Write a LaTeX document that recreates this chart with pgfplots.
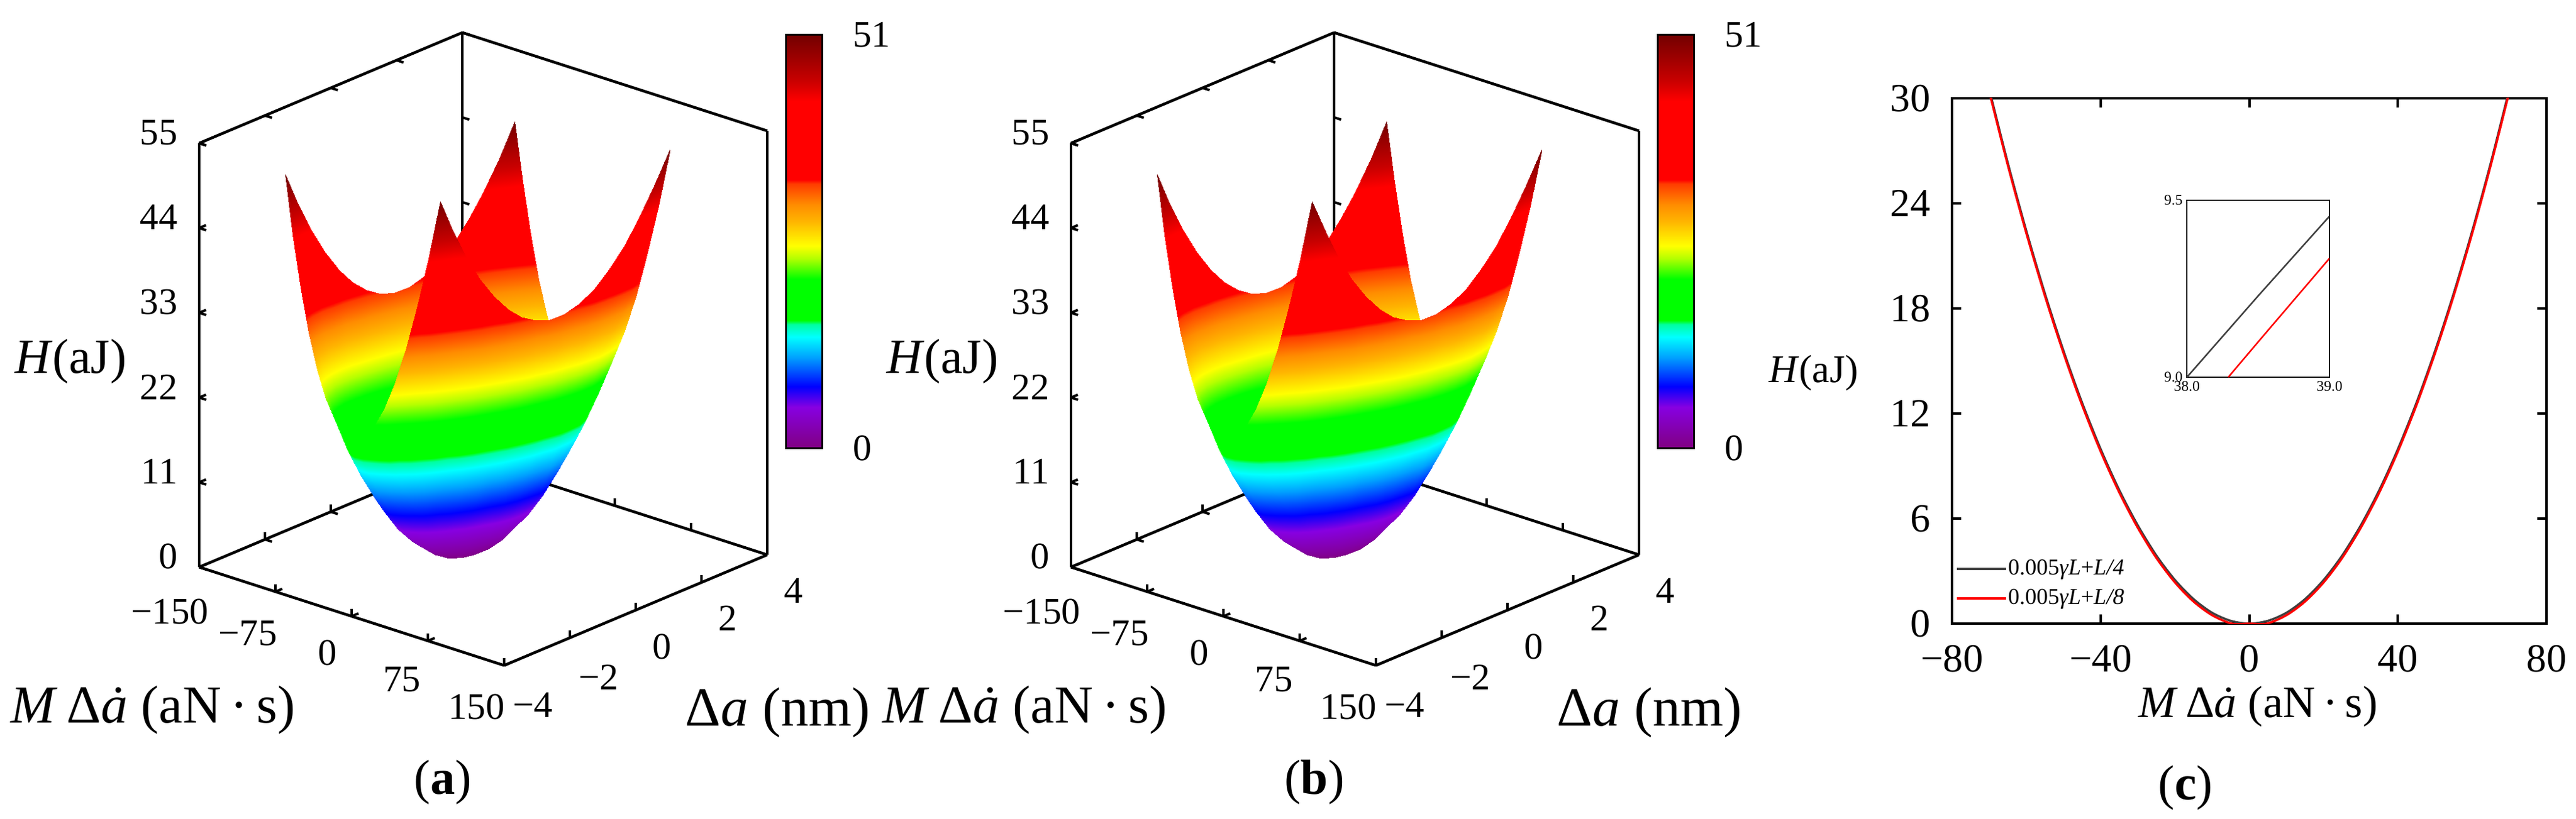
\documentclass[border=0pt]{standalone}
\usepackage{fontspec}
\setmainfont{Liberation Serif}
\usepackage{pgfplots}
\usepackage{pgfplotstable}
\pgfplotsset{compat=1.18}

\pgfplotsset{colormap={Hmap}{rgb255(0)=(128,0,128) rgb255(10)=(135,0,225) rgb255(15)=(0,0,255) rgb255(22)=(0,160,255) rgb255(27)=(0,255,255) rgb255(30)=(0,255,160) rgb255(31)=(0,255,0) rgb255(41)=(0,255,0) rgb255(46)=(180,255,0) rgb255(49)=(255,255,0) rgb255(55)=(255,180,0) rgb255(59)=(255,140,0) rgb255(64)=(255,60,0) rgb255(65)=(255,0,0) rgb255(84)=(255,0,0) rgb255(89)=(200,0,0) rgb255(100)=(115,0,0)}}

\pgfplotstableread[row sep=\\]{
x y z\\
-72 -4 50.86\\ -72 -3.5 46.51\\ -72 -3 42.74\\ -72 -2.5 39.55\\ -72 -2 36.94\\ -72 -1.5 34.91\\ -72 -1 33.46\\ -72 -0.5 32.59\\ -72 0 32.30\\ -72 0.5 32.59\\ -72 1 33.46\\ -72 1.5 34.91\\ -72 2 36.94\\ -72 2.5 39.55\\ -72 3 42.74\\ -72 3.5 46.51\\ -72 4 50.86\\
-63 -4 43.29\\ -63 -3.5 38.94\\ -63 -3 35.17\\ -63 -2.5 31.98\\ -63 -2 29.37\\ -63 -1.5 27.34\\ -63 -1 25.89\\ -63 -0.5 25.02\\ -63 0 24.73\\ -63 0.5 25.02\\ -63 1 25.89\\ -63 1.5 27.34\\ -63 2 29.37\\ -63 2.5 31.98\\ -63 3 35.17\\ -63 3.5 38.94\\ -63 4 43.29\\
-54 -4 36.73\\ -54 -3.5 32.38\\ -54 -3 28.61\\ -54 -2.5 25.42\\ -54 -2 22.81\\ -54 -1.5 20.78\\ -54 -1 19.33\\ -54 -0.5 18.46\\ -54 0 18.17\\ -54 0.5 18.46\\ -54 1 19.33\\ -54 1.5 20.78\\ -54 2 22.81\\ -54 2.5 25.42\\ -54 3 28.61\\ -54 3.5 32.38\\ -54 4 36.73\\
-45 -4 31.18\\ -45 -3.5 26.83\\ -45 -3 23.06\\ -45 -2.5 19.87\\ -45 -2 17.26\\ -45 -1.5 15.23\\ -45 -1 13.78\\ -45 -0.5 12.91\\ -45 0 12.62\\ -45 0.5 12.91\\ -45 1 13.78\\ -45 1.5 15.23\\ -45 2 17.26\\ -45 2.5 19.87\\ -45 3 23.06\\ -45 3.5 26.83\\ -45 4 31.18\\
-36 -4 26.63\\ -36 -3.5 22.28\\ -36 -3 18.51\\ -36 -2.5 15.32\\ -36 -2 12.71\\ -36 -1.5 10.68\\ -36 -1 9.23\\ -36 -0.5 8.36\\ -36 0 8.07\\ -36 0.5 8.36\\ -36 1 9.23\\ -36 1.5 10.68\\ -36 2 12.71\\ -36 2.5 15.32\\ -36 3 18.51\\ -36 3.5 22.28\\ -36 4 26.63\\
-27 -4 23.10\\ -27 -3.5 18.75\\ -27 -3 14.98\\ -27 -2.5 11.79\\ -27 -2 9.18\\ -27 -1.5 7.15\\ -27 -1 5.70\\ -27 -0.5 4.83\\ -27 0 4.54\\ -27 0.5 4.83\\ -27 1 5.70\\ -27 1.5 7.15\\ -27 2 9.18\\ -27 2.5 11.79\\ -27 3 14.98\\ -27 3.5 18.75\\ -27 4 23.10\\
-18 -4 20.58\\ -18 -3.5 16.23\\ -18 -3 12.46\\ -18 -2.5 9.27\\ -18 -2 6.66\\ -18 -1.5 4.63\\ -18 -1 3.18\\ -18 -0.5 2.31\\ -18 0 2.02\\ -18 0.5 2.31\\ -18 1 3.18\\ -18 1.5 4.63\\ -18 2 6.66\\ -18 2.5 9.27\\ -18 3 12.46\\ -18 3.5 16.23\\ -18 4 20.58\\
-9 -4 19.06\\ -9 -3.5 14.71\\ -9 -3 10.94\\ -9 -2.5 7.75\\ -9 -2 5.14\\ -9 -1.5 3.11\\ -9 -1 1.66\\ -9 -0.5 0.79\\ -9 0 0.50\\ -9 0.5 0.79\\ -9 1 1.66\\ -9 1.5 3.11\\ -9 2 5.14\\ -9 2.5 7.75\\ -9 3 10.94\\ -9 3.5 14.71\\ -9 4 19.06\\
0 -4 18.56\\ 0 -3.5 14.21\\ 0 -3 10.44\\ 0 -2.5 7.25\\ 0 -2 4.64\\ 0 -1.5 2.61\\ 0 -1 1.16\\ 0 -0.5 0.29\\ 0 0 0\\ 0 0.5 0.29\\ 0 1 1.16\\ 0 1.5 2.61\\ 0 2 4.64\\ 0 2.5 7.25\\ 0 3 10.44\\ 0 3.5 14.21\\ 0 4 18.56\\
9 -4 19.06\\ 9 -3.5 14.71\\ 9 -3 10.94\\ 9 -2.5 7.75\\ 9 -2 5.14\\ 9 -1.5 3.11\\ 9 -1 1.66\\ 9 -0.5 0.79\\ 9 0 0.50\\ 9 0.5 0.79\\ 9 1 1.66\\ 9 1.5 3.11\\ 9 2 5.14\\ 9 2.5 7.75\\ 9 3 10.94\\ 9 3.5 14.71\\ 9 4 19.06\\
18 -4 20.58\\ 18 -3.5 16.23\\ 18 -3 12.46\\ 18 -2.5 9.27\\ 18 -2 6.66\\ 18 -1.5 4.63\\ 18 -1 3.18\\ 18 -0.5 2.31\\ 18 0 2.02\\ 18 0.5 2.31\\ 18 1 3.18\\ 18 1.5 4.63\\ 18 2 6.66\\ 18 2.5 9.27\\ 18 3 12.46\\ 18 3.5 16.23\\ 18 4 20.58\\
27 -4 23.10\\ 27 -3.5 18.75\\ 27 -3 14.98\\ 27 -2.5 11.79\\ 27 -2 9.18\\ 27 -1.5 7.15\\ 27 -1 5.70\\ 27 -0.5 4.83\\ 27 0 4.54\\ 27 0.5 4.83\\ 27 1 5.70\\ 27 1.5 7.15\\ 27 2 9.18\\ 27 2.5 11.79\\ 27 3 14.98\\ 27 3.5 18.75\\ 27 4 23.10\\
36 -4 26.63\\ 36 -3.5 22.28\\ 36 -3 18.51\\ 36 -2.5 15.32\\ 36 -2 12.71\\ 36 -1.5 10.68\\ 36 -1 9.23\\ 36 -0.5 8.36\\ 36 0 8.07\\ 36 0.5 8.36\\ 36 1 9.23\\ 36 1.5 10.68\\ 36 2 12.71\\ 36 2.5 15.32\\ 36 3 18.51\\ 36 3.5 22.28\\ 36 4 26.63\\
45 -4 31.18\\ 45 -3.5 26.83\\ 45 -3 23.06\\ 45 -2.5 19.87\\ 45 -2 17.26\\ 45 -1.5 15.23\\ 45 -1 13.78\\ 45 -0.5 12.91\\ 45 0 12.62\\ 45 0.5 12.91\\ 45 1 13.78\\ 45 1.5 15.23\\ 45 2 17.26\\ 45 2.5 19.87\\ 45 3 23.06\\ 45 3.5 26.83\\ 45 4 31.18\\
54 -4 36.73\\ 54 -3.5 32.38\\ 54 -3 28.61\\ 54 -2.5 25.42\\ 54 -2 22.81\\ 54 -1.5 20.78\\ 54 -1 19.33\\ 54 -0.5 18.46\\ 54 0 18.17\\ 54 0.5 18.46\\ 54 1 19.33\\ 54 1.5 20.78\\ 54 2 22.81\\ 54 2.5 25.42\\ 54 3 28.61\\ 54 3.5 32.38\\ 54 4 36.73\\
63 -4 43.29\\ 63 -3.5 38.94\\ 63 -3 35.17\\ 63 -2.5 31.98\\ 63 -2 29.37\\ 63 -1.5 27.34\\ 63 -1 25.89\\ 63 -0.5 25.02\\ 63 0 24.73\\ 63 0.5 25.02\\ 63 1 25.89\\ 63 1.5 27.34\\ 63 2 29.37\\ 63 2.5 31.98\\ 63 3 35.17\\ 63 3.5 38.94\\ 63 4 43.29\\
72 -4 50.86\\ 72 -3.5 46.51\\ 72 -3 42.74\\ 72 -2.5 39.55\\ 72 -2 36.94\\ 72 -1.5 34.91\\ 72 -1 33.46\\ 72 -0.5 32.59\\ 72 0 32.30\\ 72 0.5 32.59\\ 72 1 33.46\\ 72 1.5 34.91\\ 72 2 36.94\\ 72 2.5 39.55\\ 72 3 42.74\\ 72 3.5 46.51\\ 72 4 50.86\\
}\surfdata

\pgfplotsset{
  boxaxis/.style={
    anchor=origin,
    x={(0.16533pt,-0.05333pt)}, y={(5.35pt,2.25pt)}, z={(0pt,1.2545pt)},
    xmin=-150,xmax=150,ymin=-4,ymax=4,zmin=0,zmax=55,
    xtick={-150,-75,0,75,150}, xticklabels={−150,−75,0,75,150},
    ytick={-4,-2,0,2,4}, yticklabels={−4,−2,0,2,4},
    ztick={0,11,22,33,44,55}, zticklabels={0,11,22,33,44,55},
    tick pos=left,
    tick label style={font=\fontsize{6.1}{7}\selectfont},
    zticklabel style={yshift=2pt},
    axis line style={line width=0.45pt},
    every tick/.style={line width=0.4pt, black},
    major tick length=1.2pt, tick align=inside,
  },
  surfaxis/.style={
    anchor=origin,
    x={(0.1753pt,-0.0305pt)}, y={(4.67pt,1.075pt)}, z={(0.0446pt,1.267pt)},
    xmin=-150,xmax=150,ymin=-4,ymax=4,zmin=0,zmax=55,
    hide axis, clip=false,
    colormap name=Hmap, point meta min=0, point meta max=51,
  },
  cbaxis/.style={
    anchor=south west, scale only axis, width=5.9pt, height=67.3pt,
    xmin=0, xmax=1, ymin=0, ymax=51, enlargelimits=false,
    xtick=\empty, ytick={0,51}, yticklabels={0,51}, yticklabel pos=right,
    major tick length=0pt, axis line style={line width=0.3pt}, axis on top,
    tick label style={font=\fontsize{6.1}{7}\selectfont}, yticklabel style={xshift=1.5pt},
    colormap name=Hmap, point meta min=0, point meta max=51,
  },
}

\begin{document}
\begin{tikzpicture}
\path[use as bounding box] (0,0) rectangle (419pt,-133.3pt);

% ---------- (a)
\begin{axis}[boxaxis, at={(78.6pt,-91.3pt)}]
\addplot3[draw=none] coordinates {(0,0,0)};
\end{axis}
\begin{axis}[surfaxis, at={(75.4pt,-90.7pt)}]
\addplot3[surf, shader=interp, z buffer=sort, mesh/rows=17, mesh/cols=17] table {\surfdata};
\end{axis}
\begin{axis}[cbaxis, at={(127.8pt,-73pt)}]
\addplot[surf, shader=interp, point meta=y, mesh/rows=2, mesh/cols=2] coordinates {(0,0) (1,0) (0,51) (1,51)};
\end{axis}
\node[font=\fontsize{8}{9}\selectfont] at (11.5pt,-58.8pt) {\textit{H}(aJ)};
\node[font=\fontsize{8.7}{10}\selectfont] at (24.9pt,-115.6pt) {\textit{M}\,Δ\textit{\.a} (aN\,·\,s)};
\node[font=\fontsize{9}{10}\selectfont] at (126.5pt,-116pt) {Δ\textit{a} (nm)};
\node[font=\fontsize{8}{9}\selectfont] at (72pt,-127.3pt) {(\textbf{a})};

% ---------- (b)
\begin{axis}[boxaxis, at={(220.4pt,-91.3pt)}]
\addplot3[draw=none] coordinates {(0,0,0)};
\end{axis}
\begin{axis}[surfaxis, at={(217.2pt,-90.7pt)}]
\addplot3[surf, shader=interp, z buffer=sort, mesh/rows=17, mesh/cols=17] table {\surfdata};
\end{axis}
\begin{axis}[cbaxis, at={(269.6pt,-73pt)}]
\addplot[surf, shader=interp, point meta=y, mesh/rows=2, mesh/cols=2] coordinates {(0,0) (1,0) (0,51) (1,51)};
\end{axis}
\node[font=\fontsize{8}{9}\selectfont] at (153.3pt,-58.8pt) {\textit{H}(aJ)};
\node[font=\fontsize{8.7}{10}\selectfont] at (166.7pt,-115.6pt) {\textit{M}\,Δ\textit{\.a} (aN\,·\,s)};
\node[font=\fontsize{9}{10}\selectfont] at (268.3pt,-116pt) {Δ\textit{a} (nm)};
\node[font=\fontsize{8}{9}\selectfont] at (213.8pt,-127.3pt) {(\textbf{b})};

% ---------- (c)
\begin{axis}[at={(317.5pt,-101.5pt)}, anchor=south west, scale only axis,
  width=96.7pt, height=85.5pt,
  xmin=-80,xmax=80,ymin=0,ymax=30,
  xtick={-80,-40,0,40,80}, xticklabels={−80,−40,0,40,80},
  ytick={0,6,12,18,24,30}, yticklabels={0,6,12,18,24,30},
  tick align=inside, major tick length=1.5pt,
  tick label style={font=\fontsize{6.5}{7}\selectfont},
  axis line style={line width=0.4pt},
  every tick/.style={line width=0.4pt, black},
  legend style={draw=none, fill=none, at={(0.004,0.076)}, anchor=west,
    font=\fontsize{3.7}{4}\selectfont, inner sep=0pt, row sep=1pt,
    nodes={inner sep=0.2pt, text height=2.6pt, text depth=0.8pt}},
  legend cell align=left,
  legend image code/.code={\draw[#1] (0pt,0pt) -- (8pt,0pt);},
]
\addplot[color=black!75, line width=0.35pt, smooth] coordinates {
(-70,30.53) (-65,26.32) (-60,22.43) (-55,18.85) (-50,15.58) (-45,12.62) (-40,9.97) (-35,7.63) (-30,5.61) (-25,3.89) (-20,2.49) (-15,1.40) (-10,0.62) (-5,0.16) (0,0)
(5,0.16) (10,0.62) (15,1.40) (20,2.49) (25,3.89) (30,5.61) (35,7.63) (40,9.97) (45,12.62) (50,15.58) (55,18.85) (60,22.43) (65,26.32) (70,30.53)};
\addlegendentry{0.005\textit{γL}+\textit{L/4}}
\addplot[color=red, line width=0.35pt, smooth] coordinates {
(-70,30.39) (-65,26.18) (-60,22.29) (-55,18.71) (-50,15.44) (-45,12.48) (-40,9.83) (-35,7.49) (-30,5.47) (-25,3.75) (-20,2.35) (-15,1.26) (-10,0.48) (-4.7,0) (0,0)
(4.7,0) (10,0.48) (15,1.26) (20,2.35) (25,3.75) (30,5.47) (35,7.49) (40,9.83) (45,12.48) (50,15.44) (55,18.71) (60,22.29) (65,26.18) (70,30.39)};
\addlegendentry{0.005\textit{γL}+\textit{L/8}}
\end{axis}

\begin{axis}[at={(355.7pt,-61.4pt)}, anchor=south west, scale only axis,
  width=23.2pt, height=28.8pt,
  xmin=38,xmax=39,ymin=9,ymax=9.5,
  xtick={38,39}, xticklabels={38.0,39.0},
  ytick={9,9.5}, yticklabels={9.0,9.5},
  major tick length=0pt,
  tick label style={font=\fontsize{2.4}{3}\selectfont, inner sep=0.5pt},
  axis line style={line width=0.17pt},
  axis background/.style={fill=white},
]
\addplot[color=black!75, line width=0.25pt] coordinates {(38,9.0) (38.5,9.23) (39,9.455)};
\addplot[color=red, line width=0.25pt] coordinates {(38.29,9.0) (38.5,9.10) (39,9.336)};
\end{axis}

\node[font=\fontsize{6.4}{7}\selectfont] at (295pt,-60.7pt) {\textit{H}(aJ)};
\node[font=\fontsize{7.3}{8}\selectfont] at (367.3pt,-115pt) {\textit{M}\,Δ\textit{\.a} (aN\,·\,s)};
\node[font=\fontsize{8}{9}\selectfont] at (355.5pt,-128.2pt) {(\textbf{c})};
\end{tikzpicture}
\end{document}
